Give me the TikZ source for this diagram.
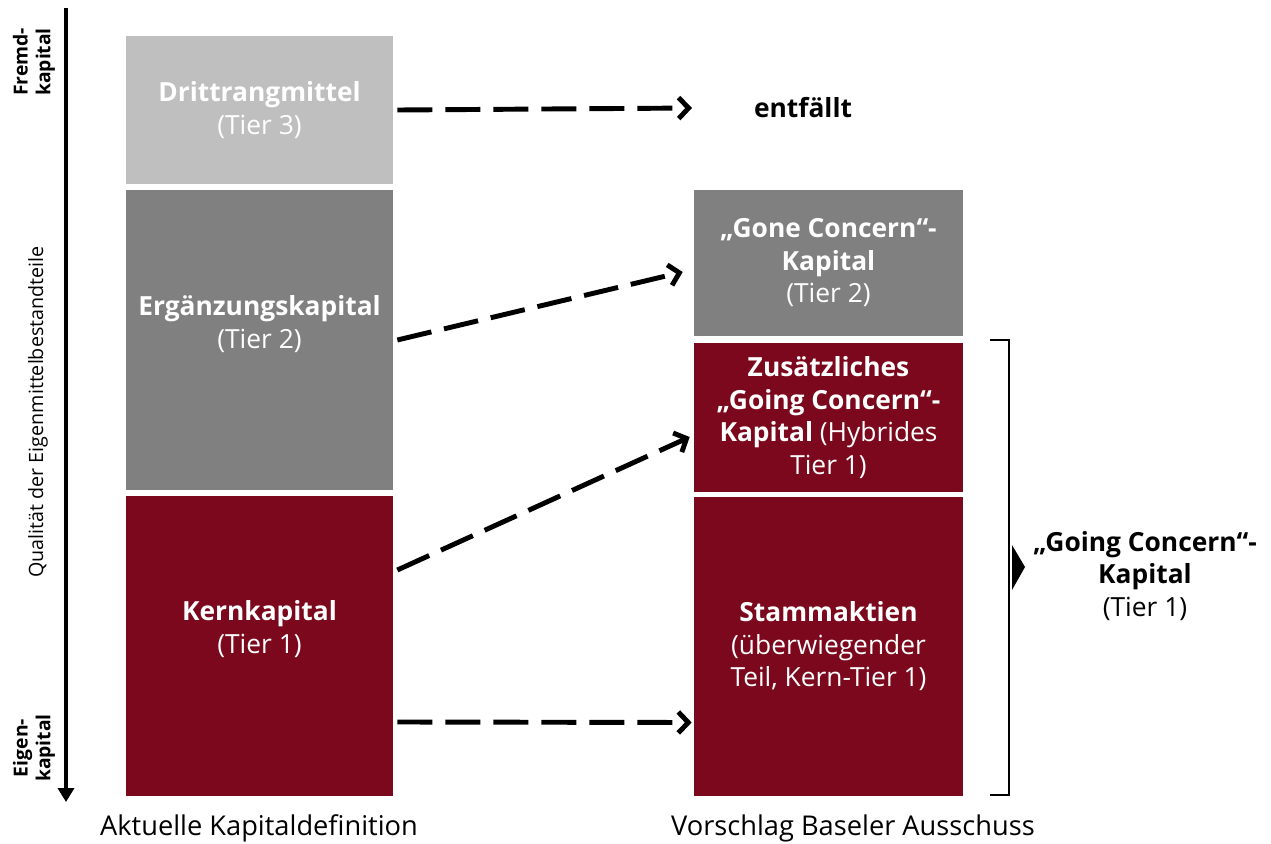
\documentclass[tikz,border=0pt]{standalone}
\usepackage{fontspec}
\setmainfont{Open Sans}
\usetikzlibrary{arrows.meta,positioning}
\definecolor{tierdrei}{HTML}{BFBFBF}
\definecolor{tierzwei}{HTML}{808080}
\definecolor{tiereins}{RGB}{123,8,28}
\begin{document}
\begin{tikzpicture}[x=0.02cm,y=-0.02cm,
    box/.style={minimum width=5.34cm,inner sep=0pt,text=white,align=center,
      font=\fontsize{15}{18.5}\selectfont},
    boxtext/.style={text=white,align=center,font=\fontsize{15}{18.5}\selectfont},
    dasharrow/.style={line width=2.8pt,dash pattern=on 0.7cm off 0.26cm,
      -{Straight Barb[length=0.2cm,width=0.42cm]}},
    sidetext/.style={rotate=90,align=center,font=\bfseries\fontsize{11}{13}\selectfont}]
  \useasboundingbox (0,0) rectangle (1271,843);
  % Achse links
  \coordinate (oben) at (66,8);
  \coordinate (unten) at (66,802);
  \draw[line width=2.2pt,-{Triangle[length=0.28cm,width=0.32cm]}] (oben) -- (unten);
  \node[sidetext] (fremd) at (34,62) {Fremd-\\kapital};
  \node[sidetext] (eigen) at (34,748) {Eigen-\\kapital};
  \node[rotate=90,font=\fontsize{11.2}{13}\selectfont] (qualitaet) at (38,412)
    {Qualität der Eigenmittelbestandteile};
  % aktuelle Definition
  \node[box,fill=tierdrei,minimum height=2.96cm] (drittrang) at (259.5,110)
    {\textbf{Drittrangmittel}\\(Tier 3)};
  \node[box,fill=tierzwei,minimum height=6cm] (ergaenzung) at (259.5,340) {};
  \node[boxtext] at ([yshift=0.32cm]ergaenzung.center)
    {\textbf{Ergänzungskapital}\\(Tier 2)};
  \node[box,fill=tiereins,minimum height=6cm] (kern) at (259.5,646) {};
  \node[boxtext] at ([yshift=0.34cm]kern.center)
    {\textbf{Kernkapital}\\(Tier 1)};
  \node[font=\fontsize{15.5}{18}\selectfont] (aktuell) at (259,828)
    {Aktuelle Kapitaldefinition};
  % Vorschlag
  \node[font=\bfseries\fontsize{15}{18.5}\selectfont] (entfaellt) at (803,108) {entfällt};
  \coordinate (wegfall) at (692,108);
  \node[box,minimum width=5.38cm,fill=tierzwei,minimum height=2.92cm] (gone) at (828.5,263)
    {\textbf{„Gone Concern“-}\\\textbf{Kapital}\\(Tier 2)};
  \node[box,minimum width=5.38cm,fill=tiereins,minimum height=2.98cm] (zusatz) at (828.5,417.5)
    {\textbf{Zusätzliches}\\\textbf{„Going Concern“-}\\\textbf{Kapital} (Hybrides\\Tier 1)};
  \node[box,minimum width=5.38cm,fill=tiereins,minimum height=5.98cm] (stamm) at (828.5,646.5)
    {\textbf{Stammaktien}\\(überwiegender\\Teil, Kern-Tier 1)};
  \node[font=\fontsize{15.5}{18}\selectfont] (vorschlag) at (853,828)
    {Vorschlag Baseler Ausschuss};
  % Pfeile
  \draw[dasharrow] ([xshift=0.08cm]drittrang.east) -- (wegfall);
  \draw[dasharrow] ([xshift=0.08cm]ergaenzung.east) -- ([xshift=-0.22cm,yshift=-0.18cm]gone.west);
  \draw[dasharrow] ([xshift=0.08cm,yshift=1.52cm]kern.east) -- ([xshift=-0.08cm,yshift=-0.39cm]zusatz.west);
  \draw[dasharrow] ([xshift=0.08cm,yshift=-1.52cm]kern.east) -- ([xshift=-0.04cm,yshift=-1.52cm]stamm.west);
  % Klammer
  \draw[line width=0.9pt] (990,340) -- (1009,340) -- (1009,795) -- (990,795);
  \fill (1012,545) -- (1025,567) -- (1012,590) -- cycle;
  \node[align=center,font=\fontsize{15}{18.5}\selectfont] (gclabel) at (1145,576)
    {\textbf{„Going Concern“-}\\\textbf{Kapital}\\(Tier 1)};
\end{tikzpicture}
\end{document}
